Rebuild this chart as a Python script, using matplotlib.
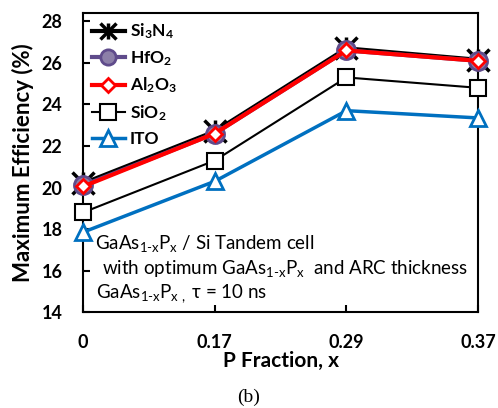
import matplotlib.pyplot as plt
from matplotlib.lines import Line2D

plt.rcParams['font.family'] = ['Lato', 'DejaVu Sans']
plt.rcParams['mathtext.fontset'] = 'custom'
plt.rcParams['mathtext.rm'] = 'Lato'
plt.rcParams['mathtext.it'] = 'Lato'
plt.rcParams['mathtext.bf'] = 'Lato:bold'

# DATA
fractions = ['0', '0.17', '0.29', '0.37']
si3n4 = [20.2, 22.7, 26.7, 26.15]
hfo2 = [20.1, 22.6, 26.6, 26.1]
al2o3 = [20.05, 22.6, 26.6, 26.1]
sio2 = [18.8, 21.3, 25.3, 24.8]
ito = [17.85, 20.3, 23.7, 23.35]

x = range(len(fractions))

fig = plt.figure(figsize=(4.98, 4.08), dpi=100)
ax = fig.add_axes([0.167, 0.235, 0.793, 0.733])

# Si3N4: asterisk marker built from an x and a vertical bar
ax.plot(x, si3n4, '-', color='black', lw=3, zorder=2, clip_on=False)
ax.plot(x, si3n4, 'x', color='black', ms=16, mew=2.5, zorder=2, clip_on=False)
ax.plot(x, si3n4, '|', color='black', ms=16, mew=2.5, zorder=2, clip_on=False)
ax.plot(x, hfo2, '-o', color='#5f4b8b', mfc='#8c7fa8', mec='#5f4b8b', lw=3, ms=13, mew=2,
        zorder=3, clip_on=False)
ax.plot(x, al2o3, '-D', color='red', mfc='white', mec='red', lw=3, ms=7, mew=2,
        zorder=4, clip_on=False)
ax.plot(x, sio2, '-s', color='black', mfc='white', mec='black', lw=1.5, ms=11, mew=1.5,
        zorder=3, clip_on=False)
ax.plot(x, ito, '-^', color='#0070c0', mfc='white', mec='#0070c0', lw=2.5, ms=11, mew=2,
        zorder=3, clip_on=False)

ax.set_xlim(0, 3)
ax.set_ylim(14, 28.4)
ax.set_xticks(list(x))
ax.set_xticklabels(fractions)
ax.set_yticks(range(14, 29, 2))
ax.tick_params(direction='in', length=5, width=1.5, labelsize=13)
ax.tick_params(axis='y', pad=15)
ax.tick_params(axis='x', pad=16)
for lab in ax.get_xticklabels() + ax.get_yticklabels():
    lab.set_fontweight('bold')
for s in ax.spines.values():
    s.set_linewidth(1.5)

ax.set_xlabel('P Fraction, x', fontsize=15, fontweight='bold', labelpad=0)
ax.set_ylabel('Maximum Efficiency (%)', fontsize=16, fontweight='bold', labelpad=5)

handles = [
    (Line2D([], [], color='black', lw=3),
     Line2D([], [], ls='', marker='x', color='black', ms=12, mew=2.5),
     Line2D([], [], ls='', marker='|', color='black', ms=12, mew=2.5)),
    Line2D([], [], color='#5f4b8b', marker='o', mfc='#8c7fa8', mec='#5f4b8b', lw=3, ms=11, mew=2),
    Line2D([], [], color='red', marker='D', mfc='white', mec='red', lw=3, ms=7, mew=2),
    Line2D([], [], color='black', marker='s', mfc='white', mec='black', lw=1.5, ms=11, mew=1.5),
    Line2D([], [], color='#0070c0', marker='^', mfc='white', mec='#0070c0', lw=2.5, ms=11, mew=2),
]
labels = [r'$\mathbf{Si_3N_4}$', r'$\mathbf{HfO_2}$', r'$\mathbf{Al_2O_3}$', r'$\mathbf{SiO_2}$', 'ITO']
leg = ax.legend(handles, labels, loc='upper left', frameon=False, fontsize=12.5,
                handlelength=1.9, handletextpad=0.3, labelspacing=0.45,
                borderaxespad=0.1, bbox_to_anchor=(0.0, 1.0))
for t in leg.get_texts():
    t.set_fontweight('bold')

ax.text(0.09, 17.3, r'GaAs$_{1\text{-}x}$P$_x$ / Si Tandem cell', fontsize=13.5, va='center')
ax.text(0.145, 16.1, r'with optimum GaAs$_{1\text{-}x}$P$_x$  and ARC thickness', fontsize=13.5, va='center')
ax.text(0.1, 14.9, r'GaAs$_{1\text{-}x}$P$_{x\ ,}$ $\tau$ = 10 ns', fontsize=13.5, va='center')

fig.text(0.5, 0.027, '(b)', fontsize=14, family='Liberation Serif', ha='center', va='center')

fig.savefig('out.png', dpi=100)
